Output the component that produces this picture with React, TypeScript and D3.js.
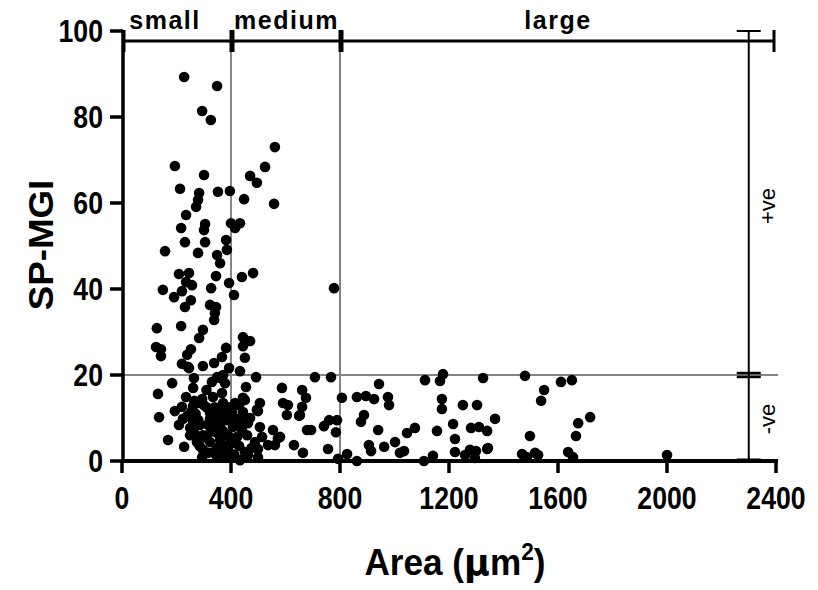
import React from "react";
import * as d3 from "d3";

const area = [
  228, 349, 294, 326, 561, 194, 301, 525, 470, 495, 213, 283, 352, 396, 279, 272, 448, 558, 235, 305,
  301, 217, 400, 433, 415, 231, 305, 382, 158, 279, 349, 385, 360, 209, 246, 235, 257, 345, 440, 481,
  393, 150, 191, 220, 327, 411, 253, 231, 323, 345, 341, 338, 128, 217, 297, 283, 444, 470, 444, 125,
  143, 143, 253, 239, 382, 367, 451, 220, 246, 297, 338, 393, 433, 492, 264, 349, 371, 184, 261, 330,
  378, 455, 587, 661, 675, 778, 708, 767, 1112, 1167, 1178, 1325, 943, 661, 653, 807, 862, 895, 925, 976,
  980, 1174, 1174, 1251, 1303, 888, 877, 1369, 679, 694, 741, 760, 789, 785, 940, 1046, 1075, 1156, 1215, 1222,
  1281, 1310, 1340, 664, 756, 793, 826, 862, 906, 914, 962, 1002, 1020, 1035, 1108, 1141, 1222, 1259, 1277, 1299,
  1295, 1340, 1343, 1479, 1611, 1651, 1549, 1538, 1674, 1718, 1497, 1666, 1468, 1486, 1516, 1527, 1637, 1655, 2000,
  242, 360, 132, 235, 294, 334, 367, 220, 261, 286, 371, 415, 451, 506, 591, 609, 194, 323, 360, 404,
  444, 495, 136, 224, 261, 323, 385, 426, 462, 605, 650, 209, 250, 286, 330, 360, 407, 440, 506, 554,
  250, 297, 349, 389, 422, 459, 514, 580, 169, 275, 323, 360, 415, 488, 536, 561, 631, 228, 297, 349,
  389, 451, 499, 294, 349, 389, 433, 462, 499, 316, 360, 572, 444, 499, 310, 345, 400, 270, 378, 412,
  325, 265, 430, 470, 255, 280, 300, 315, 340, 355, 375, 395, 420, 450, 265, 285, 305, 335, 370, 395,
  430, 475, 240, 310,
];

const mgi = [
  89.3, 87.2, 81.4, 79.3, 73.0, 68.6, 66.5, 68.4, 66.3, 64.7, 63.3, 62.3, 62.6, 62.8, 60.7, 59.1, 60.9, 59.8, 57.2, 55.1,
  53.7, 54.2, 55.3, 55.3, 54.2, 50.9, 50.9, 51.4, 48.8, 48.4, 47.9, 49.1, 46.0, 43.5, 43.7, 41.6, 40.9, 43.0, 42.8, 43.7,
  41.4, 39.8, 38.1, 39.5, 40.2, 38.6, 37.4, 35.8, 36.3, 35.8, 34.4, 32.8, 30.9, 31.4, 30.5, 28.6, 28.8, 27.9, 26.7, 26.5,
  26.0, 24.4, 26.0, 24.7, 26.3, 24.2, 24.0, 22.6, 21.6, 22.1, 22.8, 21.6, 20.9, 19.5, 19.3, 19.5, 20.0, 18.1, 17.0, 18.4,
  18.1, 17.2, 17.0, 16.5, 14.7, 40.2, 19.5, 19.5, 18.8, 18.6, 20.2, 19.3, 17.9, 12.6, 10.7, 14.7, 14.9, 15.1, 14.4, 14.9,
  13.0, 14.4, 12.1, 13.0, 13.0, 10.7, 9.1, 9.8, 7.2, 7.2, 8.1, 9.5, 9.5, 6.7, 7.2, 6.5, 7.7, 7.0, 8.6, 5.1,
  7.7, 7.9, 7.0, 1.9, 2.8, 0.5, 1.6, 0.0, 3.7, 2.3, 3.3, 4.4, 1.9, 2.3, 0.0, 1.2, 2.1, 1.4, 2.6, 2.3,
  0.7, 2.8, 3.0, 19.8, 18.4, 18.8, 16.5, 14.0, 8.8, 10.2, 5.8, 5.8, 1.6, 0.9, 1.9, 1.4, 2.1, 0.9, 1.4,
  21.9, 19.3, 15.6, 14.9, 14.4, 14.9, 15.8, 12.6, 12.8, 13.5, 13.5, 13.5, 14.2, 13.5, 13.5, 13.0, 11.6, 11.2, 11.9, 11.4,
  11.4, 11.9, 10.2, 9.8, 9.1, 9.8, 9.5, 9.8, 8.8, 10.7, 10.5, 8.4, 7.7, 8.4, 7.7, 7.9, 7.9, 7.2, 7.9, 7.2,
  6.0, 6.0, 6.5, 6.0, 5.6, 6.0, 5.6, 5.6, 4.9, 4.4, 4.4, 4.9, 4.2, 4.4, 3.7, 3.7, 3.7, 3.3, 2.6, 3.0,
  2.8, 2.1, 2.8, 0.9, 0.9, 0.9, 0.2, 1.4, 0.9, 1.9, 1.6, 5.3, 14.7, 11.6, 12.5, 10.5, 10.0, 11.0, 3.5, 1.5,
  6.8, 14.0, 13.0, 10.0, 11.5, 9.5, 13.0, 8.5, 12.5, 9.0, 11.0, 12.5, 8.5, 9.5, 6.5, 3.5, 5.5, 2.0, 7.0, 4.0,
  3.5, 3.0, 10.5, 16.5,
];

const xTicks = [0, 400, 800, 1200, 1600, 2000, 2400];
const yTicks = [0, 20, 40, 60, 80, 100];
const sizeClasses = ["small", "medium", "large"];
const sizeBounds = [0, 400, 800, 2400];
const signLabels = ["+ve", "-ve"];
const signBounds = [100, 20, 0];
const bracketX = 2300;

const FONT = "'Liberation Sans', Arial, sans-serif";

export default function App() {
  const x = d3.scaleLinear().domain([0, 2400]).range([122, 776]);
  const y = d3.scaleLinear().domain([0, 100]).range([461, 31]);
  const sx = 0.86;
  const bY = 41;
  const bx = x(bracketX);
  const labelCenters = [165, null, null];

  return (
    <svg width={818} height={590} style={{ position: "absolute", left: 0, top: 0, background: "#fff" }}>
      <rect width={818} height={590} fill="#fff" />
      {/* grey reference lines */}
      <line x1={x(0)} x2={x(2400) + 2} y1={y(20)} y2={y(20)} stroke="#858585" strokeWidth={2} />
      {[400, 800].map((v) => (
        <line key={v} x1={x(v)} x2={x(v)} y1={bY} y2={y(0)} stroke="#858585" strokeWidth={2} />
      ))}

      {/* points */}
      {area.map((a, i) => (
        <circle key={i} cx={x(a)} cy={y(mgi[i])} r={5.3} fill="#000" />
      ))}

      {/* y axis */}
      <line x1={x(0) + 1} x2={x(0) + 1} y1={y(100) - 1} y2={y(0) + 2} stroke="#000" strokeWidth={3.5} />
      {yTicks.map((t) => (
        <g key={t}>
          <line x1={x(0) - 12} x2={x(0) + 1} y1={y(t)} y2={y(t)} stroke="#000" strokeWidth={3.5} />
          <g transform={`translate(${x(0) - 19},${y(t) + 11}) scale(${sx},1)`}>
            <text textAnchor="end" fontFamily={FONT} fontWeight="bold" fontSize={31} fill="#000">
              {t}
            </text>
          </g>
        </g>
      ))}

      {/* x axis */}
      <line x1={x(0)} x2={x(2400) + 2} y1={y(0)} y2={y(0)} stroke="#000" strokeWidth={4} />
      {xTicks.map((t) => (
        <g key={t}>
          <line x1={x(t)} x2={x(t)} y1={y(0)} y2={y(0) + 12} stroke="#000" strokeWidth={3.5} />
          <g transform={`translate(${x(t)},${y(0) + 48}) scale(${sx},1)`}>
            <text textAnchor="middle" fontFamily={FONT} fontWeight="bold" fontSize={31} fill="#000">
              {t}
            </text>
          </g>
        </g>
      ))}

      {/* size class brackets */}
      {sizeClasses.map((c, i) => {
        const x0 = x(sizeBounds[i]) + 2;
        const x1 = x(sizeBounds[i + 1]) - (i === 2 ? 2 : 0);
        const cx = labelCenters[i] ?? (x0 + x1) / 2;
        return (
          <g key={c}>
            <line x1={x0} x2={x1} y1={bY} y2={bY} stroke="#000" strokeWidth={3} />
            <line x1={x0} x2={x0} y1={bY - 11} y2={bY + 11} stroke="#000" strokeWidth={3} />
            <line x1={x1} x2={x1} y1={bY - 11} y2={bY + 11} stroke="#000" strokeWidth={3} />
            <text
              x={cx}
              y={29}
              textAnchor="middle"
              fontFamily={FONT}
              fontWeight="bold"
              fontSize={25}
              letterSpacing={1.5}
              fill="#000"
            >
              {c}
            </text>
          </g>
        );
      })}

      {/* +ve / -ve bracket */}
      <line x1={bx} x2={bx} y1={y(100)} y2={y(0)} stroke="#000" strokeWidth={2} />
      <line x1={bx - 12} x2={bx + 12} y1={y(100)} y2={y(100)} stroke="#000" strokeWidth={2} />
      <line x1={bx - 12} x2={bx + 12} y1={y(20) - 2} y2={y(20) - 2} stroke="#000" strokeWidth={2.5} />
      <line x1={bx - 12} x2={bx + 12} y1={y(20) + 2} y2={y(20) + 2} stroke="#000" strokeWidth={2.5} />
      <line x1={bx - 12} x2={bx + 12} y1={y(0) - 1} y2={y(0) - 1} stroke="#000" strokeWidth={3} />
      {signLabels.map((s, i) => {
        const cy = (y(signBounds[i]) + y(signBounds[i + 1])) / 2 + (i === 0 ? 3 : 1);
        return (
          <text
            key={s}
            transform={`translate(${bx + 26},${cy}) rotate(-90)`}
            textAnchor="middle"
            fontFamily={FONT}
            fontSize={22}
            fill="#000"
          >
            {s}
          </text>
        );
      })}

      {/* axis titles */}
      <g transform={`translate(53,245) rotate(-90) scale(1.05,1)`}>
        <text textAnchor="middle" fontFamily={FONT} fontWeight="bold" fontSize={35} fill="#000">
          SP-MGI
        </text>
      </g>
      <g transform={`translate(455,575) scale(0.95,1)`}>
        <text textAnchor="middle" fontFamily={FONT} fontWeight="bold" fontSize={37} fill="#000">
          Area (<tspan fontFamily="'DejaVu Sans', sans-serif" fontWeight="bold">μ</tspan>m
          <tspan fontSize={24} dy={-15}>2</tspan>
          <tspan dy={15}>)</tspan>
        </text>
      </g>
    </svg>
  );
}
